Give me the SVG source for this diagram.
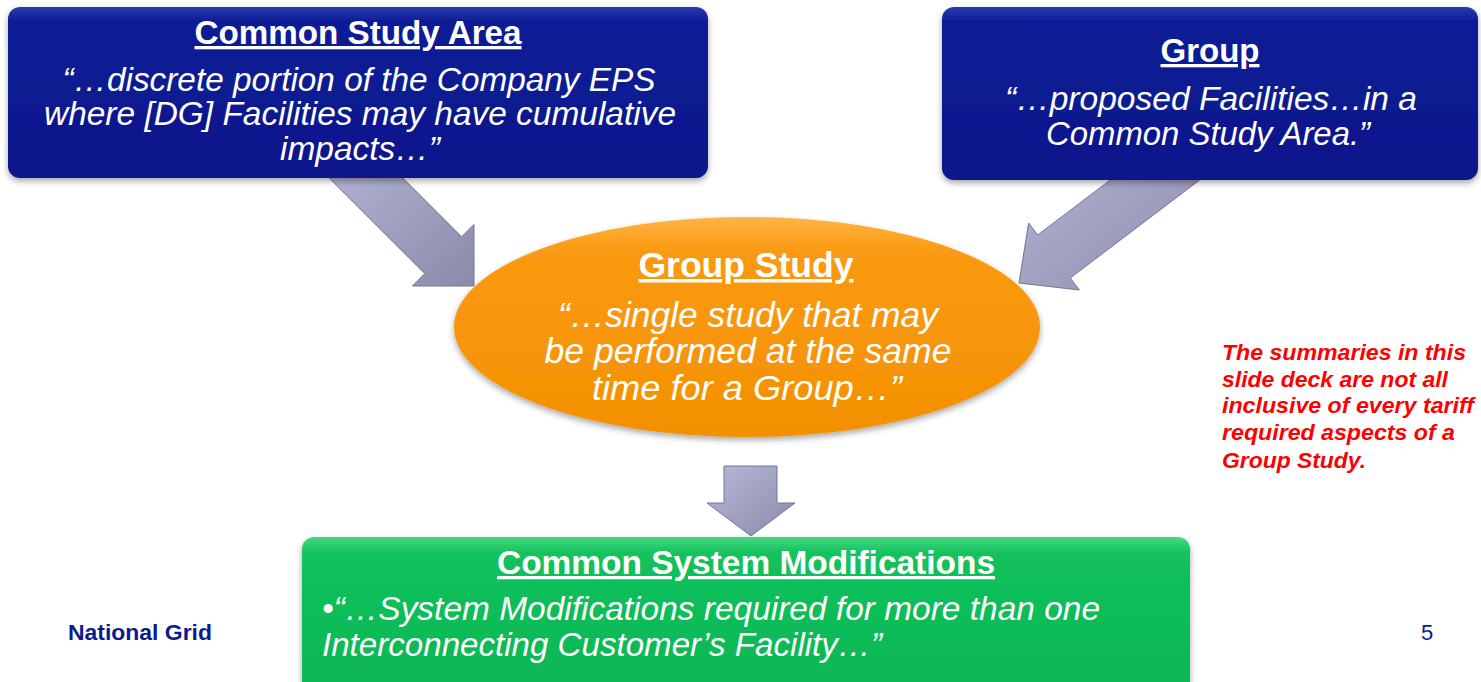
<svg xmlns="http://www.w3.org/2000/svg" width="1481" height="682" viewBox="0 0 1481 682">
<style>
.t{font-family:"Liberation Sans",Arial,sans-serif;fill:#fff}
.h{font-weight:bold;text-decoration:underline;font-size:33px}
.i{font-style:italic;font-size:33px}
.e{font-size:35px}
.red{font-family:"Liberation Sans",Arial,sans-serif;font-weight:bold;font-style:italic;font-size:22px;fill:#ff0000}
.foot{font-family:"Liberation Sans",Arial,sans-serif;fill:#0d1a8c}
.arrow{fill:url(#ag);stroke:#74749a;stroke-width:1}
</style>
<defs>
<linearGradient id="bg" x1="0" y1="0" x2="0" y2="1">
<stop offset="0" stop-color="#2a3ab0"/><stop offset="0.08" stop-color="#0e1e96"/><stop offset="1" stop-color="#08168a"/>
</linearGradient>
<linearGradient id="gg" x1="0" y1="0" x2="0" y2="1">
<stop offset="0" stop-color="#45d884"/><stop offset="0.1" stop-color="#12c25c"/><stop offset="1" stop-color="#0bb654"/>
</linearGradient>
<linearGradient id="og" x1="0" y1="0" x2="0" y2="1">
<stop offset="0" stop-color="#ffb444"/><stop offset="0.15" stop-color="#fb9a12"/><stop offset="1" stop-color="#f39000"/>
</linearGradient>
<linearGradient id="ag" x1="0" y1="0" x2="1" y2="1">
<stop offset="0" stop-color="#b8b8d8"/><stop offset="1" stop-color="#8a8aaa"/>
</linearGradient>
<filter id="sh" x="-5%" y="-10%" width="110%" height="130%">
<feDropShadow dx="0" dy="3" stdDeviation="3" flood-color="#000" flood-opacity="0.35"/>
</filter>
</defs>
<rect width="1481" height="682" fill="#fff"/>

<g id="group-study">
<ellipse cx="747" cy="327" rx="293" ry="110" fill="url(#og)" filter="url(#sh)"/>
<text class="t h e" x="746" y="277" text-anchor="middle" textLength="215" lengthAdjust="spacingAndGlyphs">Group Study</text>
<text class="t i e" x="748" y="327" text-anchor="middle" textLength="380" lengthAdjust="spacingAndGlyphs">“…single study that may</text>
<text class="t i e" x="748" y="363" text-anchor="middle" textLength="407" lengthAdjust="spacingAndGlyphs">be performed at the same</text>
<text class="t i e" x="747" y="400" text-anchor="middle" textLength="310" lengthAdjust="spacingAndGlyphs">time for a Group…”</text>
</g>

<g id="connectors">
<polygon class="arrow" points="358.4,133.6 461.6,236.8 474,224.4 474,286 412.4,286 424.8,273.6 321.6,170.4"/>
<polygon class="arrow" points="1229.7,157.2 1070.3,278 1079.4,290 1019,283 1028.6,223 1037.7,235 1197.1,114.2"/>
<polygon class="arrow" points="724,466 777,466 777,503 795,503 751,536 707,503 724,503"/>
</g>

<g id="common-study-area">
<rect x="8" y="7" width="700" height="171" rx="12" fill="url(#bg)" filter="url(#sh)"/>
<text class="t h" x="358" y="44" text-anchor="middle" textLength="327" lengthAdjust="spacingAndGlyphs">Common Study Area</text>
<text class="t i" x="359" y="91" text-anchor="middle" textLength="593" lengthAdjust="spacingAndGlyphs">“…discrete portion of the Company EPS</text>
<text class="t i" x="360" y="125" text-anchor="middle" textLength="632" lengthAdjust="spacingAndGlyphs">where [DG] Facilities may have cumulative</text>
<text class="t i" x="360" y="160" text-anchor="middle" textLength="160" lengthAdjust="spacingAndGlyphs">impacts…”</text>
</g>

<g id="group">
<rect x="942" y="7" width="536" height="173" rx="12" fill="url(#bg)" filter="url(#sh)"/>
<text class="t h" x="1210" y="62" text-anchor="middle" textLength="99" lengthAdjust="spacingAndGlyphs">Group</text>
<text class="t i" x="1211" y="110" text-anchor="middle" textLength="412" lengthAdjust="spacingAndGlyphs">“…proposed Facilities…in a</text>
<text class="t i" x="1208" y="145" text-anchor="middle" textLength="324" lengthAdjust="spacingAndGlyphs">Common Study Area.”</text>
</g>

<g id="common-system-modifications">
<rect x="302" y="537" width="888" height="160" rx="12" fill="url(#gg)" filter="url(#sh)"/>
<text class="t h" x="746" y="574" text-anchor="middle" textLength="498" lengthAdjust="spacingAndGlyphs">Common System Modifications</text>
<text class="t i" x="322" y="620" textLength="778" lengthAdjust="spacingAndGlyphs">•“…System Modifications required for more than one</text>
<text class="t i" x="322" y="656" textLength="560" lengthAdjust="spacingAndGlyphs">Interconnecting Customer’s Facility…”</text>
</g>

<g id="note">
<text class="red" x="1222" y="360" textLength="244" lengthAdjust="spacingAndGlyphs">The summaries in this</text>
<text class="red" x="1222" y="387" textLength="226" lengthAdjust="spacingAndGlyphs">slide deck are not all</text>
<text class="red" x="1222" y="413" textLength="252" lengthAdjust="spacingAndGlyphs">inclusive of every tariff</text>
<text class="red" x="1222" y="440" textLength="233" lengthAdjust="spacingAndGlyphs">required aspects of a</text>
<text class="red" x="1222" y="468" textLength="144" lengthAdjust="spacingAndGlyphs">Group Study.</text>
</g>

<g id="footer">
<text class="foot" x="68" y="640" font-weight="bold" font-size="22.5" textLength="144" lengthAdjust="spacingAndGlyphs">National Grid</text>
<text class="foot" x="1421" y="640" font-size="22">5</text>
</g>
</svg>
